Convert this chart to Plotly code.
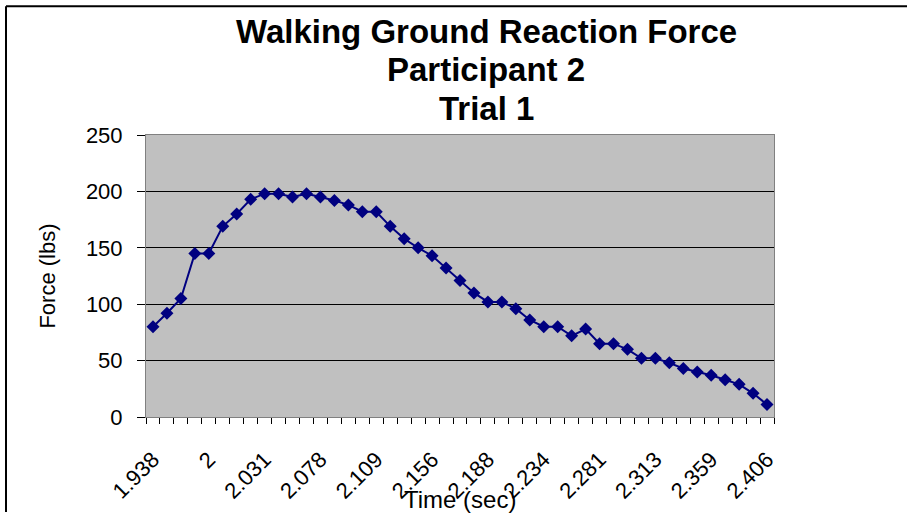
import plotly.graph_objects as go

# Force values (lbs), one per sample
force = [80, 92, 105, 145, 145, 169, 180, 193, 198, 198,
         195, 198, 195, 192, 188, 182, 182, 169, 158, 150,
         143, 132, 121, 110, 102, 102, 96, 86, 80, 80,
         72, 78, 65, 65, 60, 52, 52, 48, 43, 40,
         37, 33, 29, 21, 11]

# Time tick labels shown every 4th sample
tick_labels = ["1.938", "2", "2.031", "2.078", "2.109", "2.156",
               "2.188", "2.234", "2.281", "2.313", "2.359", "2.406"]
label_step = 4

title_lines = ["Walking Ground Reaction Force", "Participant 2", "Trial 1"]
x_title = "Time (sec)"
y_title = "Force (lbs)"

x_idx = list(range(len(force)))
tick_pos = [i * label_step for i in range(len(tick_labels))]

FONT = "Liberation Sans, Arial, sans-serif"
W, H = 907, 516
L, R, T, B = 146, 133, 135, 96
PW, PH = W - L - R, H - T - B

fig = go.Figure()
fig.add_trace(go.Scatter(
    x=x_idx, y=force, mode="lines+markers",
    line=dict(color="#000080", width=2),
    marker=dict(symbol="diamond", size=10, color="#000080"),
    showlegend=False, cliponaxis=False,
))

fig.update_layout(
    width=W, height=H,
    margin=dict(l=L, r=R, t=T, b=B),
    paper_bgcolor="white", plot_bgcolor="#C0C0C0",
    font=dict(family=FONT, color="black", size=22),
    xaxis=dict(
        range=[-0.5, len(force) - 0.5],
        tickmode="array", tickvals=tick_pos, ticktext=tick_labels,
        tickangle=-45, ticks="", ticklabelstandoff=20,
        showgrid=False, zeroline=False,
        showline=True, linecolor="#808080", linewidth=1, mirror=True,
        tickfont=dict(family=FONT, size=22, color="black"),
        minor=dict(tickmode="linear", tick0=-0.5, dtick=1, ticks="outside",
                   ticklen=6, tickcolor="black", tickwidth=1, showgrid=False),
    ),
    yaxis=dict(
        range=[0, 250], tickmode="linear", tick0=0, dtick=50,
        ticks="outside", ticklen=8, tickcolor="black",
        showgrid=True, gridcolor="black", gridwidth=1,
        zeroline=False,
        showline=True, linecolor="#808080", linewidth=1, mirror=True,
        tickfont=dict(family=FONT, size=22, color="black"),
        ticklabelstandoff=10,
        title=dict(text=y_title, standoff=24,
                   font=dict(family=FONT, size=22, color="black")),
    ),
)

# Chart title: one annotation per line so the line spacing matches
title_tops = [11, 49, 88]  # pixel top of each title line
for line, top in zip(title_lines, title_tops):
    fig.add_annotation(
        text="<b>" + line + "</b>",
        xref="paper", yref="paper", x=(486 - L) / PW, y=1, yshift=T - top,
        xanchor="center", yanchor="top", showarrow=False, align="center",
        font=dict(family=FONT, size=33, color="black"),
    )

# X-axis title (overlaps the rotated tick labels as in the reference)
fig.add_annotation(
    text=x_title, xref="paper", yref="paper", x=0.5, y=0,
    yshift=-82, xanchor="center", yanchor="middle", showarrow=False,
    font=dict(family=FONT, size=24, color="black"),
)

# Outer chart border (top and left edges visible in reference)
top_y = (H - B - 5) / PH
left_x = (6 - L) / PW
fig.add_shape(type="line", xref="paper", yref="paper",
              x0=left_x, x1=(W - L) / PW, y0=top_y, y1=top_y,
              line=dict(color="black", width=2))
fig.add_shape(type="line", xref="paper", yref="paper",
              x0=left_x, x1=left_x, y0=top_y, y1=(H - B - H) / PH,
              line=dict(color="black", width=2))

fig.write_html("out.html",
               config={"displayModeBar": False},
               post_script="document.body.style.margin='0';"
                           "document.body.style.overflow='hidden';")
